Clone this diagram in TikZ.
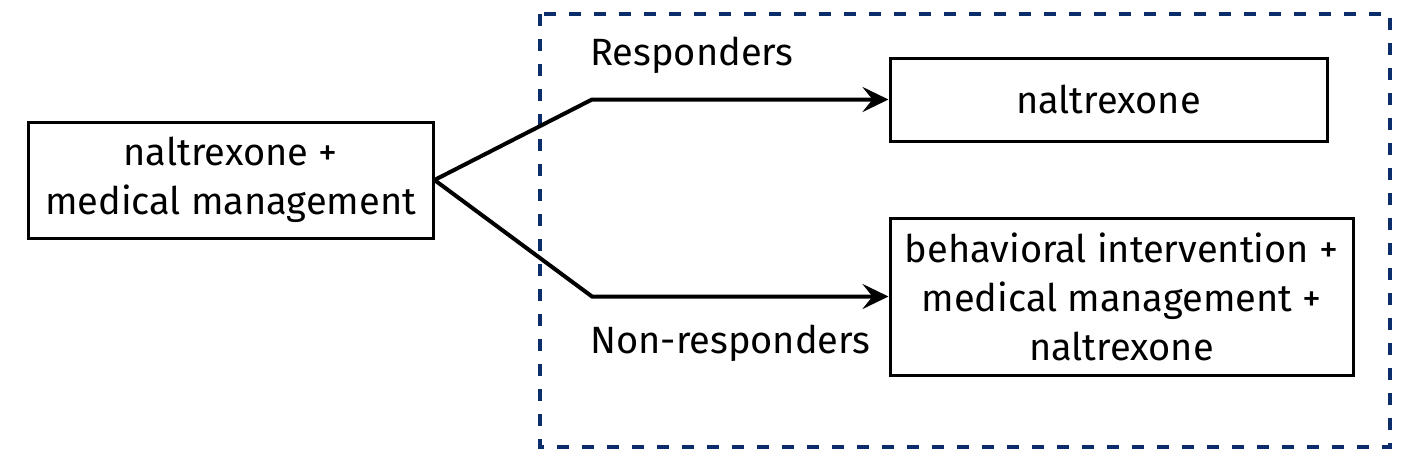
\documentclass[tikz,border=0pt]{standalone}
\usepackage{fontspec}
\setmainfont{Fira Sans}
\usepackage{tikz}
\usetikzlibrary{arrows.meta}
\usetikzlibrary{positioning}
\definecolor{frameblue}{HTML}{0B2D6B}

\begin{document}
\begin{tikzpicture}[x=0.5pt, y=-0.5pt,
    stage/.style={draw, line width=1.5pt, align=center, inner sep=0pt,
      font=\fontsize{19}{24.5}\selectfont},
    armlabel/.style={anchor=base west, inner sep=0pt, font=\fontsize{19}{24.5}\selectfont},
    flow/.style={line width=2pt, -{Stealth[length=13pt, width=12.5pt, inset=5pt]}}]
      \useasboundingbox (0, 0) rectangle (1405, 463);

      \draw [frameblue, line width=2.2pt, dash pattern=on 6pt off 6.5pt] (540, 14) rectangle (1390, 447);

      \node [stage, minimum width=202.5pt, minimum height=58pt] (start) at (230.5, 180) {naltrexone +\\medical management};
      \node [stage, minimum width=218.5pt, minimum height=41.5pt] (resp) at (1108.5, 99.5) {naltrexone};
      \node [stage, minimum width=231.5pt, minimum height=78.5pt] (nonresp) at (1121.5, 296.5) {behavioral intervention +\\medical management +\\naltrexone};

      \coordinate (upbend) at (592, 99.5);
      \coordinate (lowbend) at (592, 296.5);
      \draw [flow] (start.east) -- (upbend) -- (resp.west);
      \draw [flow] (start.east) -- (lowbend) -- (nonresp.west);

      \node [armlabel] (resplabel) at (590, 65) {Responders};
      \node [armlabel] (nonresplabel) at (590, 353) {Non-responders};
    \end{tikzpicture}
\end{document}
